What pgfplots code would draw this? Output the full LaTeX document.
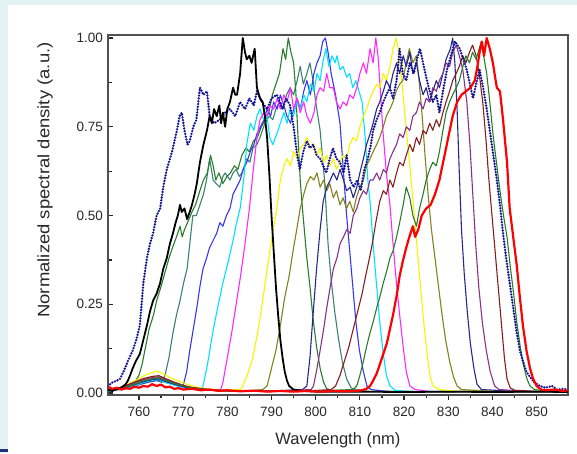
\documentclass[border=0pt]{standalone}
\usepackage{pgfplots}
\pgfplotsset{compat=1.18}
\usepackage{fontspec}
\setmainfont{Liberation Sans}
\usepackage{graphicx}
\definecolor{bgc}{RGB}{228,242,245}
\definecolor{edgenavy}{RGB}{30,50,120}
\definecolor{axgray}{RGB}{80,80,80}
\definecolor{txt}{RGB}{40,40,40}
\definecolor{cgreen}{RGB}{40,125,45}
\definecolor{cteal}{RGB}{60,130,115}
\definecolor{cblue}{RGB}{55,55,235}
\definecolor{ccyan}{RGB}{0,225,255}
\definecolor{cmag}{RGB}{255,40,255}
\definecolor{cyel}{RGB}{245,245,0}
\definecolor{colive}{RGB}{130,130,30}
\definecolor{cnavy}{RGB}{40,40,140}
\definecolor{cpurple}{RGB}{135,50,135}
\definecolor{cwine}{RGB}{135,30,30}
\definecolor{cdot}{RGB}{20,20,150}
\begin{document}
\begin{tikzpicture}
\fill[bgc] (0pt,0pt) rectangle (577pt,453pt);
\fill[white] (8pt,0pt) rectangle (577pt,448pt);
\fill[edgenavy] (0pt,1.3pt) rectangle (8pt,3.7pt);
\begin{axis}[
  at={(108pt,58.5pt)}, anchor=south west,
  scale only axis, width=460pt, height=359.5pt,
  xmin=753, xmax=857.1, ymin=-0.004, ymax=1.0085,
  xtick={760,770,...,850}, minor x tick num=1,
  ytick={0,0.25,0.5,0.75,1}, minor y tick num=1,
  xtick pos=left, ytick pos=left,
  tick align=inside,
  axis line style={draw=axgray, line width=2pt},
  every tick/.style={txt, line width=1.2pt},
  major tick length=5pt, minor tick length=3.5pt,
  every major x tick/.style={yshift=-5pt},
  every minor x tick/.style={yshift=-3.5pt},
  /pgf/number format/assume math mode=true,
  yticklabel style={/pgf/number format/fixed, /pgf/number format/fixed zerofill, /pgf/number format/precision=2},
  ticklabel style={font=\fontsize{13.5}{15}\selectfont, text=txt},
  xticklabel style={anchor=north, yshift=-9pt},
  yticklabel style={anchor=east, xshift=-1.5pt},
  every axis plot/.append style={line join=round},
]
% thin curves
\addplot[cteal, line width=1.1pt] coordinates {(753,0.006)(756,0.01)(759,0.02)(762,0.03)(764,0.035)(765.2,0.03)(765.9,0.05)(766.8,0.1)(767.7,0.17)(768.5,0.22)(769.3,0.26)(770.1,0.31)(770.9,0.35)(771.5,0.42)(772.2,0.5)(773,0.5)(773.8,0.53)(774.6,0.56)(775.3,0.6)(776,0.66)(776.8,0.6)(777.5,0.59)(778.3,0.58)(779,0.61)(779.5,0.62)(780.6,0.6)(781.3,0.62)(782,0.63)(782.7,0.61)(783.3,0.62)(784.4,0.66)(785.1,0.65)(785.8,0.69)(786.7,0.7)(787.4,0.72)(788.5,0.76)(789.5,0.78)(790.3,0.77)(791,0.8)(791.8,0.82)(792.6,0.8)(793.4,0.84)(794.2,0.86)(795,0.84)(795.8,0.88)(796.5,0.92)(797.2,0.87)(798,0.9)(798.7,0.93)(799.4,0.88)(800,0.82)(801,0.74)(802,0.6)(802.8,0.42)(803.5,0.32)(804.3,0.23)(805.2,0.15)(806,0.09)(807,0.04)(808,0.015)(809,0.01)(812,0.005)(820,0.004)(830,0.005)(840,0.004)(857,0.004)};
\addplot[cgreen, line width=1.1pt] coordinates {(753,0.008)(755,0.01)(757,0.012)(758,0.02)(759,0.03)(760,0.05)(760.7,0.08)(761.5,0.13)(762.3,0.18)(763.3,0.22)(764,0.26)(765,0.3)(765.9,0.34)(766.8,0.38)(767.6,0.41)(768.5,0.44)(769.3,0.47)(769.8,0.44)(770.3,0.46)(771,0.48)(772,0.51)(772.8,0.53)(773.8,0.57)(774.6,0.6)(775.5,0.62)(776.2,0.67)(776.8,0.64)(777.4,0.6)(778.1,0.62)(779,0.59)(779.9,0.61)(780.7,0.62)(781.6,0.64)(782.4,0.63)(783.3,0.67)(784.2,0.69)(785,0.68)(785.9,0.71)(786.8,0.72)(787.7,0.75)(788.6,0.77)(789.4,0.79)(790.2,0.84)(791,0.87)(791.8,0.9)(792.6,0.97)(793.2,0.94)(793.8,1.0)(794.4,0.96)(795,0.93)(795.5,0.85)(796,0.72)(796.5,0.6)(797,0.52)(797.5,0.45)(798,0.38)(798.7,0.3)(799.4,0.21)(800.2,0.13)(801,0.07)(801.8,0.03)(802.5,0.012)(804,0.006)(810,0.004)(820,0.005)(830,0.003)(840,0.004)(850,0.003)(857,0.004)};
\addplot[cblue, line width=1.1pt] coordinates {(753,0.006)(755,0.01)(757,0.012)(759,0.02)(761,0.028)(763,0.034)(764.5,0.036)(766,0.03)(768,0.024)(769,0.02)(770,0.02)(770.8,0.06)(771.5,0.12)(772.3,0.18)(773.1,0.24)(773.8,0.3)(774.5,0.35)(775.3,0.38)(776,0.41)(776.8,0.43)(777.6,0.45)(778.3,0.48)(779,0.47)(779.8,0.5)(780.6,0.52)(781.3,0.56)(782.1,0.58)(782.9,0.6)(783.6,0.63)(784.4,0.65)(785.2,0.68)(786,0.7)(786.7,0.73)(787.5,0.75)(788.3,0.77)(789,0.8)(789.8,0.78)(790.5,0.82)(791.3,0.8)(792,0.84)(792.8,0.81)(793.5,0.78)(794.3,0.76)(795,0.8)(795.8,0.83)(796.5,0.8)(797.3,0.85)(798,0.88)(798.8,0.84)(799.6,0.9)(800.3,0.93)(801,0.95)(801.6,0.99)(802.2,1.0)(802.8,0.96)(803.5,0.9)(804.5,0.84)(805.5,0.76)(806.3,0.62)(807,0.5)(807.7,0.4)(808.4,0.3)(809.1,0.2)(809.9,0.12)(810.8,0.06)(811.6,0.02)(812.5,0.01)(816,0.005)(825,0.004)(835,0.005)(845,0.004)(857,0.004)};
\addplot[ccyan, line width=1.1pt] coordinates {(753,0.005)(755,0.01)(757,0.014)(759,0.02)(761,0.03)(763,0.036)(764.5,0.038)(766,0.03)(768,0.022)(770,0.016)(772,0.012)(774,0.008)(774.5,0.02)(775.5,0.08)(776.7,0.17)(777.8,0.24)(779,0.31)(780.2,0.37)(781.3,0.43)(782.1,0.48)(782.9,0.52)(783.7,0.6)(784.4,0.7)(785.2,0.76)(786,0.74)(786.7,0.78)(787.4,0.8)(788.2,0.77)(789,0.78)(789.6,0.72)(790.3,0.7)(791.2,0.73)(792,0.76)(792.8,0.79)(793.5,0.76)(794.2,0.8)(795,0.78)(795.7,0.82)(796.5,0.8)(797.3,0.84)(798,0.82)(798.8,0.87)(799.6,0.85)(800.3,0.9)(801,0.88)(801.6,0.93)(802.3,0.97)(803,0.92)(803.7,0.95)(804.4,0.93)(804.8,0.95)(805.5,0.91)(806.2,0.92)(807,0.89)(807.7,0.9)(808.4,0.86)(809.1,0.88)(809.8,0.85)(810.5,0.82)(811.2,0.72)(811.8,0.6)(812.3,0.54)(813,0.42)(813.8,0.3)(814.5,0.2)(815.3,0.11)(816,0.05)(816.8,0.02)(818,0.008)(822,0.004)(830,0.005)(840,0.004)(857,0.004)};
\addplot[cmag, line width=1.1pt] coordinates {(753,0.005)(755,0.01)(757,0.016)(759,0.024)(761,0.034)(763,0.04)(764.5,0.042)(766,0.034)(768,0.026)(770,0.018)(772,0.013)(775,0.008)(778.5,0.01)(779,0.03)(780,0.1)(781,0.17)(782,0.25)(783,0.33)(784,0.42)(785,0.52)(785.8,0.62)(786.7,0.72)(787.4,0.77)(788.3,0.79)(789,0.78)(789.6,0.81)(790.5,0.8)(791.3,0.83)(792,0.8)(792.8,0.84)(793.5,0.82)(794.3,0.86)(795,0.8)(795.8,0.83)(796.5,0.79)(797.3,0.82)(798,0.78)(798.8,0.76)(799.6,0.79)(800.3,0.84)(801,0.86)(801.8,0.85)(802.5,0.9)(803.2,0.86)(804,0.86)(804.7,0.82)(805.5,0.8)(806.2,0.82)(807,0.81)(807.7,0.84)(808.5,0.83)(809.3,0.86)(810,0.9)(810.8,0.93)(811.5,0.9)(812.3,0.97)(813,0.93)(813.6,1.0)(814.1,0.95)(814.6,0.86)(815.2,0.74)(816,0.62)(816.8,0.53)(817.5,0.42)(818.2,0.32)(819,0.22)(819.8,0.13)(820.5,0.06)(821.3,0.02)(822.5,0.01)(826,0.004)(835,0.005)(845,0.004)(857,0.004)};
\addplot[cyel, line width=1.1pt] coordinates {(753,0.006)(755,0.014)(757,0.022)(759,0.034)(761,0.048)(762.5,0.056)(764,0.062)(765.5,0.054)(767,0.044)(769,0.034)(771,0.024)(773,0.017)(776,0.011)(779,0.008)(783,0.01)(783.5,0.02)(784.5,0.05)(785.8,0.1)(787,0.18)(788,0.26)(788.8,0.33)(789.6,0.4)(790.4,0.46)(791.2,0.52)(792,0.6)(792.8,0.64)(793.5,0.66)(794.3,0.64)(795,0.68)(795.8,0.66)(796.5,0.69)(797.3,0.7)(798,0.72)(798.8,0.69)(799.6,0.7)(800.3,0.67)(801,0.69)(801.8,0.65)(802.5,0.67)(803.2,0.64)(804,0.66)(804.7,0.63)(805.5,0.65)(806.2,0.67)(807,0.66)(807.7,0.7)(808.5,0.72)(809.2,0.71)(810,0.75)(810.8,0.78)(811.5,0.8)(812.3,0.83)(813,0.85)(813.8,0.87)(814.5,0.86)(815.3,0.9)(816,0.88)(816.8,0.92)(817.5,0.97)(818.2,1.0)(818.8,0.96)(819.5,0.88)(820.2,0.78)(821,0.68)(821.6,0.6)(822.2,0.52)(823,0.4)(823.8,0.29)(824.6,0.18)(825.4,0.09)(826,0.04)(826.6,0.02)(828,0.01)(832,0.005)(840,0.006)(848,0.004)(857,0.005)};
\addplot[colive, line width=1.1pt] coordinates {(753,0.005)(755,0.011)(757,0.018)(759,0.026)(761,0.036)(763,0.042)(764.5,0.044)(766,0.036)(768,0.027)(770,0.02)(772,0.014)(775,0.009)(779,0.006)(784,0.005)(788,0.01)(789,0.02)(790,0.07)(791,0.12)(792,0.19)(793,0.27)(794,0.33)(795,0.41)(795.7,0.46)(796.5,0.52)(797.3,0.56)(798,0.59)(798.8,0.61)(799.6,0.6)(800.3,0.62)(801,0.58)(801.8,0.6)(802.5,0.57)(803.2,0.59)(804,0.55)(804.7,0.57)(805.5,0.53)(806.2,0.55)(807,0.52)(807.7,0.54)(808.5,0.51)(809.2,0.55)(810,0.58)(810.8,0.6)(811.5,0.64)(812.3,0.66)(813,0.68)(813.8,0.7)(814.5,0.72)(815.3,0.75)(816,0.78)(816.8,0.8)(817.5,0.82)(818.2,0.85)(819,0.87)(819.7,0.88)(820.5,0.93)(821.2,0.97)(822,0.93)(822.8,0.95)(823.4,0.88)(824.1,0.78)(824.8,0.66)(825.5,0.55)(826.2,0.46)(827,0.38)(827.8,0.3)(828.6,0.22)(829.4,0.15)(830.3,0.09)(831.2,0.045)(832,0.02)(833,0.01)(840,0.005)(848,0.004)(857,0.005)};
\addplot[cnavy, line width=1.1pt] coordinates {(753,0.005)(755,0.01)(757,0.016)(759,0.024)(761,0.032)(763,0.038)(764.5,0.04)(766,0.033)(768,0.025)(770,0.018)(772,0.012)(776,0.008)(782,0.005)(790,0.006)(797,0.01)(798,0.02)(798.7,0.1)(799.4,0.22)(800.2,0.35)(801,0.46)(801.7,0.54)(802.5,0.58)(803.3,0.6)(804,0.62)(804.8,0.6)(805.5,0.63)(806.3,0.6)(807,0.57)(807.8,0.58)(808.5,0.55)(809.3,0.58)(810,0.62)(810.8,0.66)(811.5,0.7)(812.3,0.73)(813,0.76)(813.8,0.8)(814.5,0.82)(815.3,0.85)(816,0.88)(816.8,0.86)(817.5,0.9)(818.3,0.93)(819,0.9)(819.8,0.95)(820.5,0.92)(821.3,0.96)(822,0.9)(822.8,0.93)(823.5,0.88)(824.3,0.84)(825,0.86)(825.8,0.82)(826.5,0.85)(827.3,0.88)(828,0.86)(828.8,0.9)(829.5,0.94)(830.5,0.97)(831,1.0)(831.5,0.93)(832,0.8)(832.5,0.62)(833,0.46)(833.6,0.34)(834.3,0.23)(835,0.14)(835.8,0.07)(836.5,0.025)(837.5,0.01)(845,0.005)(857,0.005)};
\addplot[cpurple, line width=1.1pt] coordinates {(753,0.006)(755,0.012)(757,0.02)(759,0.029)(761,0.038)(763,0.044)(764.5,0.046)(766,0.038)(768,0.029)(770,0.021)(772,0.015)(776,0.009)(782,0.006)(790,0.005)(799,0.01)(799.5,0.02)(800.3,0.07)(801,0.12)(801.8,0.18)(802.5,0.24)(803.3,0.3)(804,0.35)(804.8,0.38)(805.5,0.42)(806.3,0.44)(807,0.46)(807.8,0.45)(808.5,0.5)(809.3,0.52)(810,0.55)(810.8,0.57)(811.5,0.56)(812.3,0.6)(813,0.6)(813.8,0.62)(814.5,0.6)(815.3,0.63)(816,0.62)(816.8,0.66)(817.5,0.68)(818.3,0.7)(819,0.73)(819.8,0.72)(820.5,0.75)(821.3,0.74)(822,0.78)(822.8,0.79)(823.5,0.82)(824.3,0.8)(825,0.83)(825.8,0.82)(826.5,0.86)(827.3,0.85)(828,0.88)(828.8,0.9)(829.5,0.93)(830.3,0.92)(831,0.96)(831.8,0.98)(832.5,0.95)(833.3,0.91)(834.2,0.82)(834.9,0.7)(835.6,0.55)(836.2,0.42)(836.9,0.3)(837.7,0.2)(838.6,0.12)(839.5,0.06)(840.5,0.02)(841.5,0.01)(848,0.005)(857,0.004)};
\addplot[cwine, line width=1.1pt] coordinates {(753,0.006)(755,0.013)(757,0.021)(759,0.031)(761,0.041)(763,0.047)(764.5,0.049)(766,0.041)(768,0.031)(770,0.022)(772,0.016)(776,0.01)(782,0.006)(790,0.005)(798,0.006)(803.5,0.01)(804.5,0.02)(805.5,0.05)(806.5,0.09)(807.5,0.13)(808.5,0.18)(809.5,0.23)(810.5,0.28)(811.3,0.33)(812,0.37)(812.8,0.42)(813.6,0.48)(814.5,0.54)(815.3,0.57)(816,0.56)(816.8,0.6)(817.5,0.58)(818.3,0.62)(819,0.65)(819.8,0.64)(820.5,0.67)(821.3,0.7)(822,0.68)(822.8,0.72)(823.5,0.7)(824.3,0.74)(825,0.73)(825.8,0.76)(826.5,0.74)(827.3,0.77)(828,0.75)(828.8,0.79)(829.5,0.82)(830.3,0.85)(831,0.88)(831.8,0.9)(832.5,0.92)(833.3,0.95)(834,0.93)(834.8,0.96)(835.5,0.98)(836.3,0.95)(837,0.9)(837.8,0.82)(838.5,0.72)(839.2,0.6)(839.9,0.5)(840.6,0.4)(841.3,0.3)(842,0.2)(842.7,0.1)(843.3,0.04)(844,0.015)(845,0.008)(850,0.005)(857,0.005)};
\addplot[cgreen, line width=1.1pt] coordinates {(753,0.005)(755,0.011)(757,0.017)(759,0.025)(761,0.034)(763,0.04)(764.5,0.042)(766,0.035)(768,0.027)(770,0.02)(772,0.014)(776,0.009)(782,0.006)(790,0.005)(800,0.006)(808.5,0.01)(809.3,0.02)(810,0.05)(810.8,0.09)(811.5,0.13)(812.3,0.17)(813,0.2)(813.8,0.24)(814.5,0.27)(815.3,0.31)(816,0.34)(816.8,0.38)(817.5,0.4)(818.3,0.44)(819,0.48)(819.8,0.53)(820.5,0.58)(821.3,0.55)(822,0.5)(822.8,0.47)(823.5,0.52)(824.3,0.56)(825,0.6)(825.8,0.63)(826.5,0.65)(827.3,0.64)(828,0.68)(828.8,0.74)(829.5,0.79)(830.3,0.82)(831,0.84)(831.8,0.86)(832.5,0.88)(833.3,0.92)(834,0.95)(834.8,0.93)(835.5,0.96)(836.3,0.94)(837,0.97)(837.5,0.99)(838,0.95)(838.7,0.9)(839.4,0.82)(840.2,0.72)(841,0.64)(841.7,0.57)(842.5,0.5)(843.3,0.44)(844,0.36)(844.8,0.28)(845.5,0.2)(846.3,0.13)(847,0.08)(847.8,0.04)(848.5,0.02)(849.5,0.01)(852,0.006)(857,0.005)};
% broad dotted navy
\addplot[cdot, line width=2.6pt, line cap=round, dash pattern=on 0pt off 2.8pt] coordinates {(753,0.02)(754,0.03)(755,0.035)(755.7,0.04)(756.5,0.06)(757.5,0.09)(758.6,0.12)(759.4,0.15)(760.2,0.19)(761,0.31)(761.8,0.38)(762.5,0.42)(763.2,0.45)(764,0.5)(764.8,0.52)(765.5,0.58)(766.3,0.63)(767.5,0.68)(768.6,0.74)(769.2,0.78)(769.7,0.79)(770.3,0.74)(771,0.7)(771.5,0.71)(772.3,0.75)(773,0.77)(773.8,0.86)(774.6,0.84)(775.4,0.85)(776,0.78)(777,0.76)(778.3,0.77)(779.5,0.79)(780.6,0.8)(781.8,0.78)(782.9,0.82)(784,0.8)(785,0.83)(786,0.81)(786.7,0.85)(787.8,0.82)(789,0.8)(790,0.83)(791.2,0.84)(792.5,0.8)(793.3,0.83)(794.2,0.81)(795,0.75)(795.7,0.68)(796.4,0.63)(797.2,0.68)(798,0.71)(798.7,0.69)(799.4,0.7)(800.2,0.67)(801,0.66)(802.4,0.62)(803.2,0.66)(803.9,0.69)(804.7,0.66)(805.5,0.65)(806.3,0.62)(807,0.67)(807.8,0.6)(808.6,0.58)(809.4,0.6)(810.2,0.57)(811,0.63)(811.8,0.66)(812.5,0.7)(813,0.74)(813.8,0.77)(814.5,0.79)(815.3,0.82)(816,0.84)(816.8,0.86)(817.5,0.83)(818.3,0.88)(819,0.97)(819.7,0.9)(820.5,0.88)(821.3,0.93)(822.2,0.9)(822.9,0.94)(823.6,0.97)(824.3,0.93)(825,0.89)(825.8,0.85)(826.5,0.82)(827.3,0.84)(828,0.79)(828.8,0.85)(829.7,0.91)(830.6,0.95)(831.5,0.99)(832.1,0.98)(832.6,0.97)(833.4,0.94)(834.2,0.91)(834.9,0.87)(835.6,0.83)(836.3,0.87)(837.1,0.91)(837.9,0.86)(838.7,0.8)(839.4,0.74)(840.2,0.67)(841,0.6)(841.7,0.53)(842.4,0.45)(843.1,0.38)(843.9,0.31)(844.7,0.24)(845.5,0.17)(846.2,0.12)(846.9,0.09)(847.7,0.06)(848.5,0.045)(849.5,0.03)(850.7,0.02)(852,0.015)(853.5,0.02)(854.6,0.01)(856,0.012)(857,0.01)};
% black thick
\addplot[black, line width=1.8pt] coordinates {(753,0.01)(754,0.006)(755,0.012)(756,0.015)(757,0.025)(757.5,0.035)(758,0.05)(758.6,0.07)(759.3,0.09)(760.2,0.11)(761,0.15)(761.8,0.19)(762.5,0.23)(763.2,0.26)(764,0.28)(764.8,0.31)(765.5,0.35)(766.3,0.38)(767,0.42)(767.7,0.45)(768.3,0.48)(768.8,0.5)(769.3,0.53)(769.7,0.51)(770.3,0.52)(770.9,0.49)(771.5,0.51)(772,0.53)(772.6,0.56)(773.1,0.59)(773.8,0.65)(774.6,0.7)(775.4,0.74)(776,0.78)(776.5,0.76)(777,0.8)(777.6,0.78)(778.2,0.81)(778.6,0.76)(779,0.79)(779.5,0.75)(780,0.8)(780.6,0.82)(781.3,0.86)(781.8,0.84)(782.2,0.84)(782.9,0.9)(783.5,1.0)(784,0.96)(784.4,0.94)(785,0.95)(785.5,0.93)(786.2,0.97)(786.7,0.86)(787.4,0.83)(788,0.82)(788.5,0.78)(789,0.72)(789.5,0.62)(790,0.5)(790.5,0.4)(791,0.3)(791.5,0.22)(792,0.15)(792.5,0.1)(793,0.06)(793.5,0.035)(794,0.02)(795,0.01)(797,0.006)(800,0.004)(810,0.004)(820,0.003)(830,0.004)(840,0.003)(850,0.004)(857,0.003)};
% red thick
\addplot[red, line width=2.2pt] coordinates {(753,0.018)(754,0.012)(755,0.015)(756,0.01)(757,0.014)(758,0.012)(759,0.018)(760,0.015)(761,0.02)(762,0.018)(763,0.025)(764,0.02)(765,0.024)(766,0.016)(767,0.018)(768,0.012)(769,0.014)(770,0.01)(772,0.012)(774,0.008)(776,0.01)(778,0.006)(780,0.008)(783,0.005)(786,0.007)(789,0.004)(792,0.006)(795,0.004)(798,0.006)(801,0.004)(804,0.006)(807,0.005)(809,0.006)(810.5,0.008)(811.5,0.012)(812.3,0.02)(813,0.035)(813.8,0.055)(814.5,0.08)(815.3,0.11)(816.1,0.14)(816.8,0.18)(817.5,0.22)(818.4,0.28)(819,0.33)(819.7,0.37)(820.5,0.41)(821.2,0.44)(822,0.47)(822.5,0.44)(823.2,0.46)(824,0.5)(825,0.52)(826,0.53)(827,0.56)(828,0.6)(829,0.66)(830,0.72)(831,0.78)(832,0.82)(833,0.84)(834,0.85)(835,0.86)(836,0.88)(836.6,0.92)(837.1,0.96)(837.6,0.99)(838.1,0.95)(838.7,1.0)(839.4,0.97)(840.1,0.93)(840.6,0.89)(841,0.86)(841.7,0.85)(842.4,0.77)(843.3,0.65)(843.9,0.52)(844.7,0.44)(845.5,0.36)(846.2,0.27)(846.9,0.19)(847.7,0.12)(848.5,0.07)(849.2,0.04)(850,0.02)(851,0.01)(852,0.008)(854,0.01)(856,0.006)(857,0.008)};
\end{axis}
\node[text=txt] at (338pt,13pt) {\fontsize{16.5}{18}\selectfont Wavelength (nm)};
\node[text=txt, rotate=90] at (45pt,273pt) {\fontsize{16.5}{18}\selectfont\scalebox{1.12}[1]{Normalized spectral density (a.u.)}};
\end{tikzpicture}
\end{document}
